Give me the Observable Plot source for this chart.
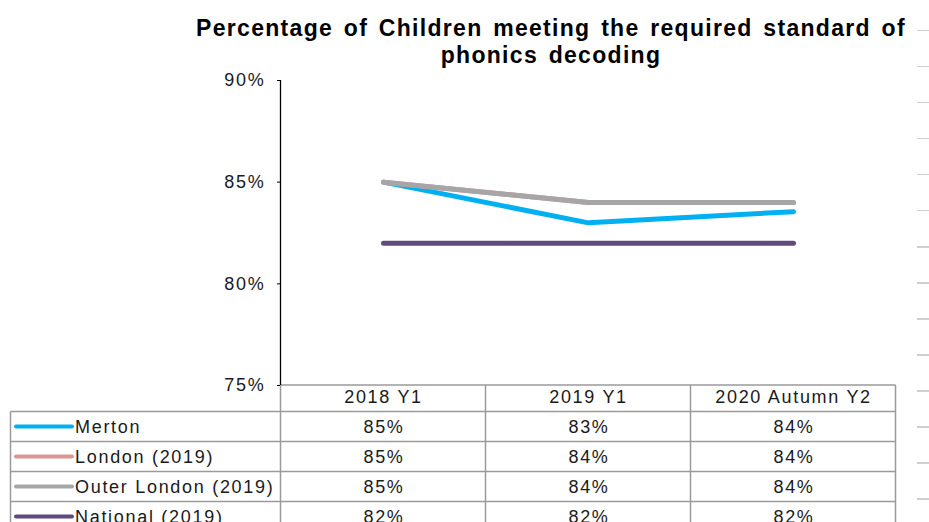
<!DOCTYPE html>
<html>
<head>
<meta charset="utf-8">
<script src="https://cdn.jsdelivr.net/npm/d3@7"></script>
<script src="https://cdn.jsdelivr.net/npm/@observablehq/plot@0.6"></script>
<style>
  html, body { margin: 0; padding: 0; background: #fff; }
  #wrap { position: relative; width: 929px; height: 522px; overflow: hidden; font-family: "Liberation Sans", Arial, sans-serif; }
  #title { box-sizing: border-box; height: 72px; padding-top: 15.4px; padding-left: 173px; width: 929px;
    text-align: center; font-weight: bold; font-size: 23px; line-height: 27px; letter-spacing: 1.3px; word-spacing: 3px; color: #000; }
  #dashes { position: absolute; left: 917px; top: 0; width: 12px; height: 522px;
    background: repeating-linear-gradient(to bottom, transparent 0px, transparent 30px, #cfcfcf 30px, #cfcfcf 31.4px, transparent 31.4px, transparent 36.02px); }
  #chart svg { display: block; }
</style>
</head>
<body>
<div id="wrap">
  <div id="title">Percentage of Children meeting the required standard of<br>phonics decoding</div>
  <div id="chart"></div>
  <div id="dashes"></div>
</div>
<script>
// ---- Data ----
const categories = ["2018 Y1", "2019 Y1", "2020 Autumn Y2"];
const seriesNames = ["Merton", "London (2019)", "Outer London (2019)", "National (2019)"];
const merton = [0.85, 0.83, 0.8355];
const london = [0.85, 0.84, 0.84];
const outerLondon = [0.85, 0.84, 0.84];
const national = [0.82, 0.82, 0.82];
const mertonLabels = ["85%", "83%", "84%"];
const londonLabels = ["85%", "84%", "84%"];
const outerLondonLabels = ["85%", "84%", "84%"];
const nationalLabels = ["82%", "82%", "82%"];
const seriesColors = ["#00B0F0", "#D99694", "#A6A6A6", "#604A7B"];
const yTicks = [0.75, 0.80, 0.85, 0.90];

const seriesValues = [merton, london, outerLondon, national];
const seriesLabels = [mertonLabels, londonLabels, outerLondonLabels, nationalLabels];
const rows = seriesNames.flatMap((s, i) => categories.map((c, j) => ({series: s, cat: c, value: seriesValues[i][j], label: seriesLabels[i][j]})));

const FONT = "'Liberation Sans', Arial, sans-serif";
const chart = Plot.plot({
  width: 929,
  height: 450,
  marginTop: 8,
  marginBottom: 137,
  marginLeft: 280,
  marginRight: 33,
  style: {fontFamily: FONT, fontSize: "18px", letterSpacing: "1.7px", color: "#1a1a1a", background: "transparent", overflow: "visible"},
  x: {type: "point", domain: categories, padding: 0.5, align: 0.5},
  y: {domain: [0.75, 0.90]},
  color: {domain: seriesNames, range: seriesColors},
  marks: [
    Plot.axisY({ticks: yTicks, tickFormat: d3.format(".0%"), tickSize: 3, tickPadding: 12, fontSize: 18, stroke: "#000", fill: "#1a1a1a", label: null}),
    Plot.axisX({tickSize: 0, tickPadding: 5, fontSize: 18, fill: "#1a1a1a", label: null}),
    Plot.line(rows, {x: "cat", y: "value", z: "series", stroke: "series", strokeWidth: 5, strokeLinecap: "round", strokeLinejoin: "round"})
  ]
});
document.getElementById("chart").appendChild(chart);

// ---- Data table below the plot, positioned from Plot's own scales ----
const svg = d3.select(chart);
const xs = chart.scale("x"), ys = chart.scale("y"), cs = chart.scale("color");
const step = xs.apply(categories[1]) - xs.apply(categories[0]);
const colLeft = xs.apply(categories[0]) - step / 2;
const colRight = xs.apply(categories[categories.length - 1]) + step / 2;
const top0 = ys.apply(0.75);
const headerH = 26.5, rowH = 30, tableLeft = 10.5, bottom = 470;
const grid = svg.insert("g", ":first-child").attr("stroke", "#9a9a9a").attr("stroke-width", 1.5).attr("fill", "none");
grid.append("line").attr("x1", colLeft).attr("x2", colRight).attr("y1", top0).attr("y2", top0);
for (let i = 0; i <= seriesNames.length; i++) {
  const yy = top0 + headerH + rowH * i;
  grid.append("line").attr("x1", tableLeft).attr("x2", colRight).attr("y1", yy).attr("y2", yy);
}
grid.append("line").attr("x1", tableLeft).attr("x2", tableLeft).attr("y1", top0 + headerH).attr("y2", bottom);
for (let j = 0; j <= categories.length; j++) {
  const xx = colLeft + step * j;
  grid.append("line").attr("x1", xx).attr("x2", xx).attr("y1", top0).attr("y2", bottom);
}
// y axis line
svg.append("line").attr("x1", colLeft).attr("x2", colLeft).attr("y1", ys.apply(0.90)).attr("y2", top0)
  .attr("stroke", "#000").attr("stroke-width", 1.3);

const tg = svg.append("g").attr("font-family", FONT).attr("font-size", 18).attr("fill", "#1a1a1a");
seriesNames.forEach((s, i) => {
  const cy = top0 + headerH + rowH * i + rowH / 2;
  svg.append("line").attr("x1", 16).attr("x2", 72).attr("y1", cy).attr("y2", cy)
    .attr("stroke", cs.apply(s)).attr("stroke-width", 4).attr("stroke-linecap", "round");
  tg.append("text").attr("x", 75).attr("y", cy).attr("dy", "0.35em").attr("text-anchor", "start").text(s);
  categories.forEach((c, j) => {
    tg.append("text").attr("x", xs.apply(c) + 1).attr("y", cy).attr("dy", "0.35em").attr("text-anchor", "middle").text(seriesLabels[i][j]);
  });
});
</script>
</body>
</html>
